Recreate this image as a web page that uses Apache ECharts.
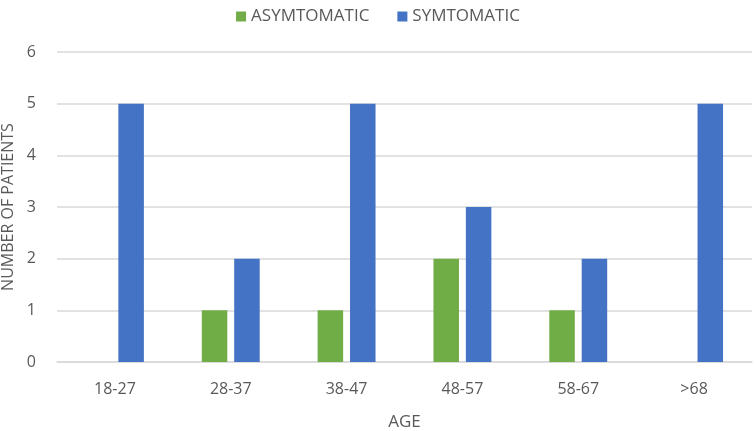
<!DOCTYPE html>
<html>
<head>
<meta charset="utf-8">
<script src="https://cdn.jsdelivr.net/npm/echarts@6/dist/echarts.min.js"></script>
<style>
  html, body { margin: 0; padding: 0; background: #fff; }
  #chart { width: 756px; height: 431px; }
</style>
</head>
<body>
<div id="chart"></div>
<script>
  // 数据
  var ageGroups = ["18-27", "28-37", "38-47", "48-57", "58-67", ">68"];
  var asymptomatic = [0, 1, 1, 2, 1, 0];
  var symptomatic = [5, 2, 5, 3, 2, 5];

  var textColor = "#595959";
  var fontFamily = "'Open Sans', 'Liberation Sans', sans-serif";

  var myChart = echarts.init(document.getElementById("chart"));
  var option = {
    animation: false,
    textStyle: { fontFamily: fontFamily, color: textColor },
    legend: {
      top: 3,
      left: "center",
      itemWidth: 10,
      itemHeight: 10,
      itemGap: 28,
      icon: "rect",
      textStyle: { fontSize: 17, color: textColor, fontFamily: fontFamily },
      data: ["ASYMTOMATIC", "SYMTOMATIC"],
    },
    grid: {
      left: 57,
      right: 4,
      top: 52,
      bottom: 69,
      outerBoundsMode: "none",
    },
    xAxis: {
      type: "category",
      data: ageGroups,
      name: "AGE",
      nameLocation: "middle",
      nameGap: 52,
      nameTextStyle: { fontSize: 17, color: textColor },
      axisLine: { show: true, lineStyle: { color: "#d9d9d9", width: 1.5 } },
      axisTick: { show: false },
      axisLabel: { fontSize: 16, color: textColor, margin: 19 },
    },
    yAxis: {
      type: "value",
      min: 0,
      max: 6,
      interval: 1,
      name: "NUMBER OF PATIENTS",
      nameLocation: "middle",
      nameGap: 33,
      nameTextStyle: { fontSize: 16, color: textColor },
      axisLine: { show: false },
      axisTick: { show: false },
      axisLabel: { fontSize: 16, color: textColor, margin: 21 },
      splitLine: { lineStyle: { color: "#d9d9d9", width: 1.5 } },
    },
    series: [
      {
        name: "ASYMTOMATIC",
        type: "bar",
        data: asymptomatic,
        itemStyle: { color: "#70ad47" },
        barGap: "27%",
        barCategoryGap: "50%",
      },
      {
        name: "SYMTOMATIC",
        type: "bar",
        data: symptomatic,
        itemStyle: { color: "#4472c4" },
        barGap: "27%",
        barCategoryGap: "50%",
      },
    ],
  };
  myChart.setOption(option);
</script>
</body>
</html>
